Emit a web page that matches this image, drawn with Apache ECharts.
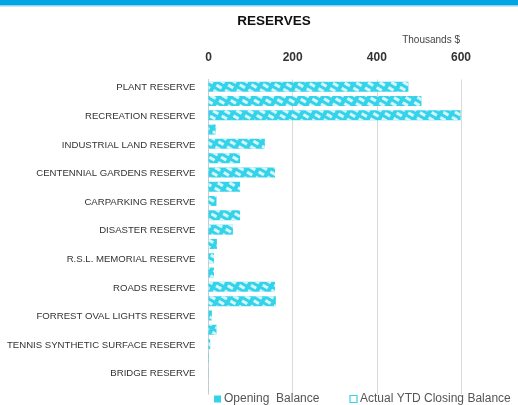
<!DOCTYPE html>
<html>
<head>
<meta charset="utf-8">
<script src="https://cdn.jsdelivr.net/npm/echarts@6/dist/echarts.min.js"></script>
<style>html,body{margin:0;padding:0;background:#fff}#c{width:518px;height:405px}</style>
</head>
<body>
<div id="c"></div>
<script>
const categories = ['PLANT RESERVE','RECREATION RESERVE','INDUSTRIAL LAND RESERVE','CENTENNIAL GARDENS RESERVE','CARPARKING RESERVE','DISASTER RESERVE','R.S.L. MEMORIAL RESERVE','ROADS RESERVE','FORREST OVAL LIGHTS RESERVE','TENNIS SYNTHETIC SURFACE RESERVE','BRIDGE RESERVE'];
const openingBalance = [475, 599, 134, 158, 19, 58, 13, 158, 8, 4, 0.5];
const closingBalance = [506, 17, 75, 75, 75, 20, 13, 160, 19, 1, 0.3];
const xTicks = [0, 200, 400, 600];
const seriesNames = ['Opening  Balance', 'Actual YTD Closing Balance'];

const CYAN = '#35D3EA';
const decal = {
  symbol: 'rect',
  symbolSize: 1,
  color: 'rgba(255,255,255,0.8)',
  dashArrayX: [[6, 4]],
  dashArrayY: [3, 3],
  rotation: Math.PI / 6
};

const chart = echarts.init(document.getElementById('c'), null, {renderer: 'canvas'});
chart.setOption({
  animation: false,
  title: {
    text: 'RESERVES', left: 269, top: 9, textAlign: 'center',
    textStyle: {fontFamily: 'Liberation Sans', fontWeight: 'bold', fontSize: 13.5, color: '#111'}
  },
  graphic: [
    {type: 'rect', shape: {x: 0, y: 0, width: 518, height: 5}, style: {fill: '#00A6E2'}},
    {type: 'rect', shape: {x: 0, y: 5, width: 518, height: 1.5}, style: {fill: '#8FD3F0'}},
    {type: 'text', right: 58, top: 35, style: {text: 'Thousands $', fontFamily: 'Liberation Sans', fontSize: 10, fill: '#444'}}
  ],
  legend: {
    left: 209, top: 388, itemWidth: 7, itemHeight: 7, itemGap: 30,
    textStyle: {fontFamily: 'Liberation Sans', fontSize: 12, color: '#555', padding: [0, 0, 0, -2]},
    data: [
      {name: seriesNames[0], icon: 'rect', itemStyle: {color: CYAN, decal: 'none'}},
      {name: seriesNames[1], icon: 'rect', itemStyle: {color: '#fff', borderColor: CYAN, borderWidth: 1.2, decal: 'none'}}
    ]
  },
  grid: {left: 208.5, right: 57, top: 79.5, height: 314.6, containLabel: false},
  xAxis: {
    type: 'value', position: 'top', min: 0, max: 600, interval: 200,
    axisLine: {show: false}, axisTick: {show: false},
    splitLine: {lineStyle: {color: '#DADADA', width: 1}},
    axisLabel: {margin: 16, fontFamily: 'Liberation Sans', fontSize: 12, fontWeight: 'bold', color: '#333',
      formatter: v => xTicks.includes(v) ? String(v) : ''}
  },
  yAxis: {
    type: 'category', data: categories, inverse: true,
    axisLine: {lineStyle: {color: '#CCCCCC'}}, axisTick: {show: false},
    axisLabel: {margin: 13, fontFamily: 'Liberation Sans', fontSize: 9.6, color: '#333', verticalAlign: 'bottom', padding: [0, 0, 1, 0]}
  },
  series: [
    {name: seriesNames[0], type: 'bar', data: openingBalance, barWidth: 10, barGap: '43%',
      itemStyle: {color: CYAN, decal: decal}},
    {name: seriesNames[1], type: 'bar', data: closingBalance, barWidth: 10,
      itemStyle: {color: CYAN, decal: decal}}
  ]
});
</script>
</body>
</html>
